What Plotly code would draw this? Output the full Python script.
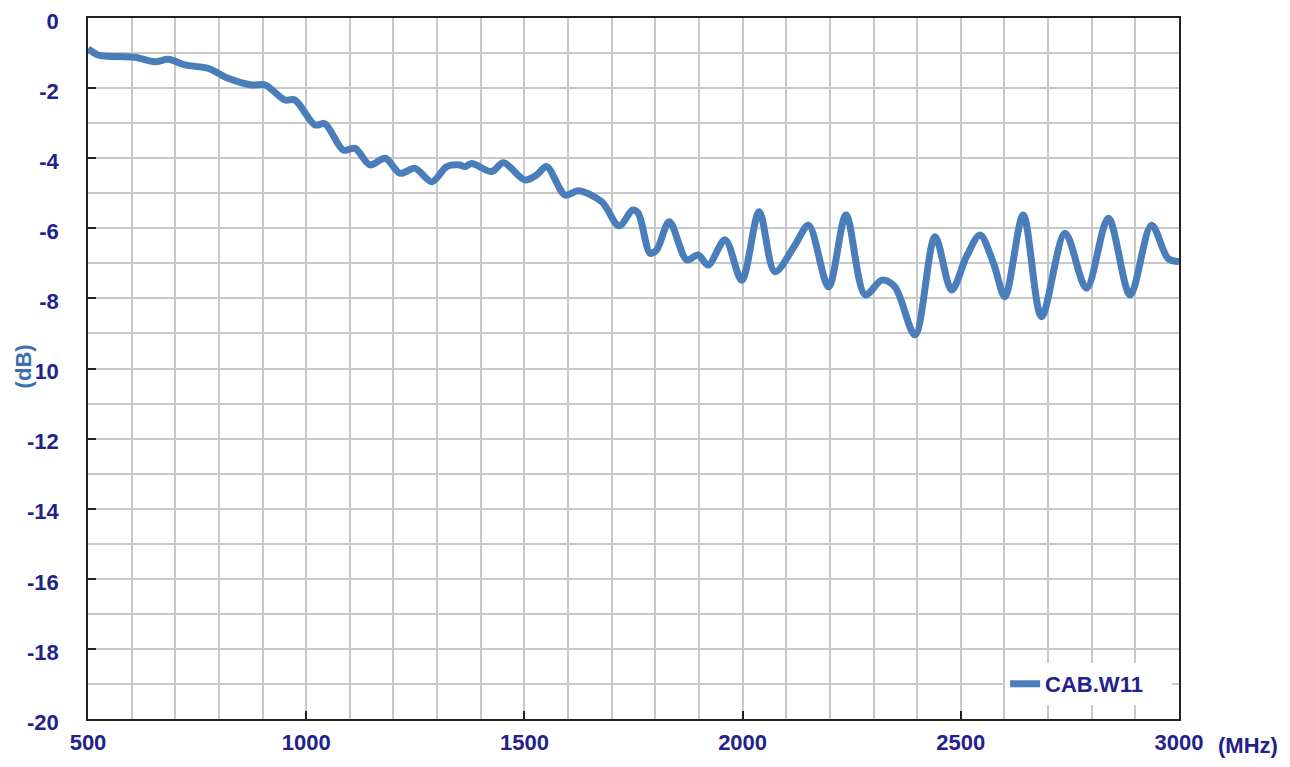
import plotly.graph_objects as go

freq_mhz = [500, 524, 569, 608, 653, 684, 722, 776, 821, 875, 906, 951, 974, 1020, 1043,
            1085, 1112, 1146, 1181, 1215, 1249, 1288, 1322, 1349, 1364, 1379, 1425, 1452,
            1501, 1528, 1551, 1593, 1624, 1677, 1717, 1748, 1761, 1788, 1803, 1832, 1872,
            1898, 1921, 1960, 1998, 2038, 2074, 2120, 2151, 2197, 2237, 2281, 2319, 2349,
            2395, 2441, 2479, 2513, 2544, 2575, 2601, 2643, 2685, 2739, 2788, 2838, 2888,
            2937, 2975, 3000]
loss_db = [-0.88, -1.06, -1.10, -1.12, -1.25, -1.18, -1.34, -1.44, -1.72, -1.91, -1.91,
           -2.34, -2.34, -3.05, -3.02, -3.77, -3.72, -4.19, -4.00, -4.43, -4.29, -4.67,
           -4.24, -4.19, -4.24, -4.15, -4.38, -4.13, -4.62, -4.48, -4.24, -5.05, -4.93,
           -5.24, -5.93, -5.48, -5.57, -6.71, -6.62, -5.81, -6.90, -6.76, -7.05, -6.33,
           -7.48, -5.53, -7.24, -6.48, -5.91, -7.67, -5.62, -7.90, -7.48, -7.67, -9.04,
           -6.24, -7.76, -6.81, -6.19, -7.00, -7.95, -5.62, -8.52, -6.14, -7.71, -5.71,
           -7.90, -5.91, -6.86, -6.95]
series_name = "CAB.W11"
x_ticks = [500, 1000, 1500, 2000, 2500, 3000]
y_ticks = list(range(0, -21, -2))

navy = "#22228a"
line_blue = "#4a7ebb"
font_family = "Liberation Sans, Arial, sans-serif"

fig = go.Figure()
fig.add_trace(go.Scatter(
    x=freq_mhz, y=loss_db, mode="lines", name=series_name,
    line=dict(color=line_blue, width=7, shape="spline", smoothing=0.9),
))

axis_common = dict(showline=True, linecolor="#222222", linewidth=1.5, mirror=True,
                   zeroline=False, gridcolor="#c8c8c8", gridwidth=1.5,
                   ticks="inside", ticklen=8, tickcolor="#222222", tickwidth=1.5,
                   ticklabeloverflow="allow", automargin=False,
                   tickfont=dict(family=font_family, size=22, color=navy, weight="bold"))

fig.update_xaxes(range=[500, 3000], tickvals=x_ticks, ticktext=[str(v) for v in x_ticks],
                 minor=dict(dtick=100, tick0=500, showgrid=True, gridcolor="#c8c8c8",
                            gridwidth=1.5, ticks=""),
                 ticklabelstandoff=3,
                 **axis_common)
fig.update_yaxes(range=[-20, 0], tickvals=y_ticks, ticktext=[str(v) for v in y_ticks],
                 minor=dict(dtick=1, tick0=0, showgrid=True, gridcolor="#c8c8c8",
                            gridwidth=1.5, ticks=""),
                 ticklabelstandoff=23, ticklabelshift=3,
                 **axis_common)

fig.add_annotation(text="(dB)", textangle=-90, xref="paper", yref="y",
                   x=-0.059, y=-9.95, xanchor="center", yanchor="middle", showarrow=False,
                   bgcolor="white", borderpad=0,
                   font=dict(family=font_family, size=22, color="#3d6fae", weight="bold"))
fig.add_annotation(text="(MHz)", xref="paper", yref="paper", x=1.034, y=-0.038,
                   xanchor="left", yanchor="middle", showarrow=False,
                   font=dict(family=font_family, size=22, color=navy, weight="bold"))

fig.update_layout(
    width=1282, height=759,
    margin=dict(l=80, r=111, t=10, b=48, autoexpand=False),
    plot_bgcolor="white", paper_bgcolor="white",
    showlegend=True,
    legend=dict(x=0.8406, y=0.02, xanchor="left", yanchor="bottom",
                orientation="h", entrywidth=122,
                bgcolor="white", borderwidth=0,
                font=dict(family=font_family, size=22, color=navy, weight="bold"),
                itemwidth=30),
)

fig.write_html("out.html")
